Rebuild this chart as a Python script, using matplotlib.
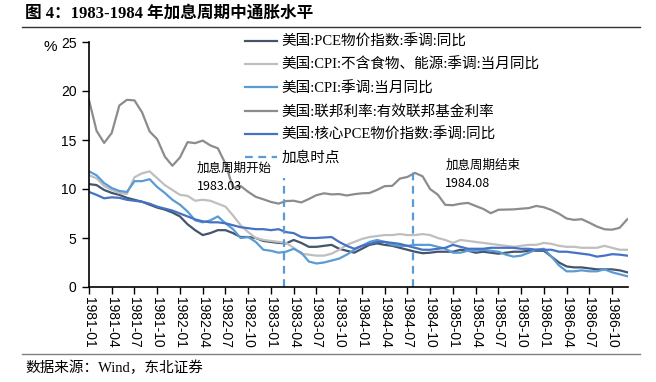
import numpy as np
import pandas as pd
import matplotlib
matplotlib.use("Agg")
import matplotlib.pyplot as plt

plt.rcParams["font.family"] = ["Liberation Sans", "Noto Sans CJK SC"]

# monthly data 1981-01 .. 1986-12
months = pd.period_range("1981-01", "1986-12", freq="M").strftime("%Y-%m").tolist()

pce = [10.5, 10.4, 9.9, 9.6, 9.4, 9.1, 8.9, 8.7, 8.4, 8.1, 7.9, 7.6,
       7.2, 6.4, 5.8, 5.3, 5.5, 5.8, 5.8, 5.5, 5.1, 5.1, 5.0, 4.7,
       4.6, 4.5, 4.45, 4.8, 4.5, 4.1, 4.1, 4.2, 4.3, 3.9, 3.7, 3.5,
       3.9, 4.3, 4.45, 4.3, 4.2, 4.0, 3.8, 3.6, 3.45, 3.5, 3.6, 3.6,
       3.6, 3.8, 3.7, 3.5, 3.6, 3.5, 3.4, 3.5, 3.6, 3.6, 3.7, 3.7,
       3.7, 3.1, 2.5, 2.1, 2.0, 2.0, 1.9, 1.8, 1.8, 1.8, 1.7, 1.5]

core_cpi = [11.4, 11.1, 10.3, 9.9, 9.6, 9.5, 11.2, 11.6, 11.8, 11.1, 10.4, 9.9,
            9.4, 9.3, 8.8, 8.9, 8.8, 8.5, 8.2, 7.3, 6.3, 5.6, 5.0, 4.8,
            4.7, 4.6, 4.5, 4.0, 3.4, 3.3, 3.2, 3.2, 3.4, 3.8, 4.3, 4.6,
            4.9, 5.1, 5.2, 5.3, 5.3, 5.4, 5.3, 5.3, 5.4, 5.3, 5.0, 4.8,
            4.5, 4.8, 4.7, 4.6, 4.5, 4.4, 4.3, 4.2, 4.1, 4.2, 4.3, 4.3,
            4.5, 4.4, 4.2, 4.1, 4.1, 4.0, 4.0, 4.0, 4.2, 4.0, 3.8, 3.8]

cpi = [11.8, 11.4, 10.6, 10.1, 9.8, 9.7, 10.8, 10.8, 11.0, 10.2, 9.6, 8.9,
       8.4, 7.7, 6.8, 6.6, 6.8, 7.2, 6.5, 5.9, 5.0, 5.1, 4.6, 3.8,
       3.7, 3.5, 3.6, 3.9, 3.5, 2.6, 2.4, 2.5, 2.7, 2.9, 3.3, 3.8,
       4.2, 4.6, 4.8, 4.6, 4.3, 4.2, 4.2, 4.3, 4.3, 4.3, 4.1, 3.9,
       3.5, 3.5, 3.7, 3.7, 3.8, 3.7, 3.6, 3.3, 3.1, 3.2, 3.5, 3.8,
       3.9, 3.1, 2.2, 1.6, 1.6, 1.7, 1.6, 1.6, 1.8, 1.5, 1.3, 1.1]

fed = [19.08, 15.93, 14.70, 15.72, 18.52, 19.10, 19.04, 17.82, 15.87, 15.08, 13.31, 12.37,
       13.22, 14.78, 14.68, 14.94, 14.45, 14.15, 12.59, 10.12, 10.31, 9.71, 9.20, 8.95,
       8.68, 8.51, 8.77, 8.80, 8.63, 8.98, 9.37, 9.56, 9.45, 9.48, 9.34, 9.47,
       9.56, 9.59, 9.91, 10.29, 10.32, 11.06, 11.23, 11.64, 11.30, 9.99, 9.43, 8.38,
       8.35, 8.50, 8.58, 8.27, 7.97, 7.53, 7.88, 7.90, 7.92, 7.99, 8.05, 8.27,
       8.14, 7.86, 7.48, 6.99, 6.85, 6.92, 6.56, 6.17, 5.89, 5.85, 6.04, 6.91]

core_pce = [9.7, 9.4, 9.05, 9.15, 9.1, 8.9, 8.8, 8.7, 8.5, 8.2, 8.0, 7.8,
            7.5, 7.2, 6.9, 6.7, 6.6, 6.6, 6.5, 6.3, 6.1, 6.0, 5.9, 5.9,
            5.8, 5.9, 5.6, 5.5, 5.1, 5.0, 5.0, 5.05, 5.1, 4.6, 4.2, 3.9,
            4.2, 4.4, 4.6, 4.6, 4.5, 4.4, 4.2, 4.0, 3.8, 3.8, 3.9, 4.0,
            4.3, 4.1, 3.9, 3.9, 3.9, 4.0, 4.0, 4.0, 4.0, 3.9, 3.9, 3.8,
            3.8, 3.8, 3.6, 3.6, 3.5, 3.4, 3.3, 3.1, 3.2, 3.35, 3.3, 3.2]

hike_dates = ["1983-03", "1984-08"]
hike_heights = [11.1, 11.8]
hike_notes = ["加息周期开始\n1983.03", "加息周期结束\n1984.08"]

labels = ["美国:PCE物价指数:季调:同比",
          "美国:CPI:不含食物、能源:季调:当月同比",
          "美国:CPI:季调:当月同比",
          "美国:联邦利率:有效联邦基金利率",
          "美国:核心PCE物价指数:季调:同比",
          "加息时点"]
colors = ["#44546A", "#BFBFBF", "#5B9BD5", "#8C8C8C", "#4472C4"]

x = np.arange(len(months))

fig = plt.figure(figsize=(6.56, 3.82), dpi=100)
ax = fig.add_axes([89 / 656, 1 - 287 / 382, (628 - 89) / 656, (287 - 42) / 382])

lines = []
for series, c in zip([pce, core_cpi, cpi, fed, core_pce], colors):
    ln, = ax.plot(x, series, color=c, lw=1.6, solid_joinstyle="round")
    lines.append(ln)

for d, h in zip(hike_dates, hike_heights):
    xi = months.index(d) - 0.3
    ax.vlines(xi, 0, h, colors="#5B9BD5", linestyles=(0, (3.5, 2.5)), lw=1.6)

# text notes next to the hike markers
ax.text(14.2, 11.2, hike_notes[0], fontsize=9, va="center", linespacing=1.5,
        family=["Noto Sans CJK SC"])
ax.text(47.0, 11.5, hike_notes[1], fontsize=9, va="center", linespacing=1.5,
        family=["Noto Sans CJK SC"])

ax.set_xlim(0, 71.1)
ax.set_ylim(0, 25)
ax.set_yticks([0, 5, 10, 15, 20, 25])
ax.set_xticks(x[::3])
ax.set_xticklabels(months[::3], rotation=-90, fontsize=10)
ax.tick_params(axis="y", labelsize=10, length=5, width=1, pad=4)
ax.tick_params(axis="x", length=5, width=1, pad=2)
for s in ["top", "right"]:
    ax.spines[s].set_visible(False)
for s in ["left", "bottom"]:
    ax.spines[s].set_linewidth(1.2)

fig.text(50 / 656, 1 - 47 / 382, "%", fontsize=11, ha="center", va="center")

dash_handle = plt.Line2D([], [], color="#5B9BD5", lw=1.6, ls=(0, (3.5, 2.5)))
leg = ax.legend(lines + [dash_handle], labels, loc="upper left",
                bbox_to_anchor=(245 / 656, 1 - 34.5 / 382), bbox_transform=fig.transFigure,
                frameon=False, handlelength=2.2, handletextpad=0.3,
                labelspacing=0.64, borderpad=0, borderaxespad=0,
                prop={"family": ["Liberation Serif", "Noto Sans CJK SC"], "size": 10.5})

# title, rules and source
fig.text(25 / 656, 1 - 14 / 382, "图 4：1983-1984 年加息周期中通胀水平", fontsize=12,
         fontweight="bold", va="center", family=["Liberation Serif", "Noto Sans CJK SC"])
fig.add_artist(plt.Line2D([22 / 656, 640 / 656], [1 - 26.5 / 382] * 2, color="#333333", lw=1))
fig.add_artist(plt.Line2D([22 / 656, 640 / 656], [1 - 354 / 382] * 2, color="#808080", lw=1))
fig.text(25 / 656, 1 - 368 / 382, "数据来源：Wind，东北证券", fontsize=10.5, va="center",
         family=["Liberation Serif", "Noto Sans CJK SC"])

fig.savefig("out.png", dpi=100)
